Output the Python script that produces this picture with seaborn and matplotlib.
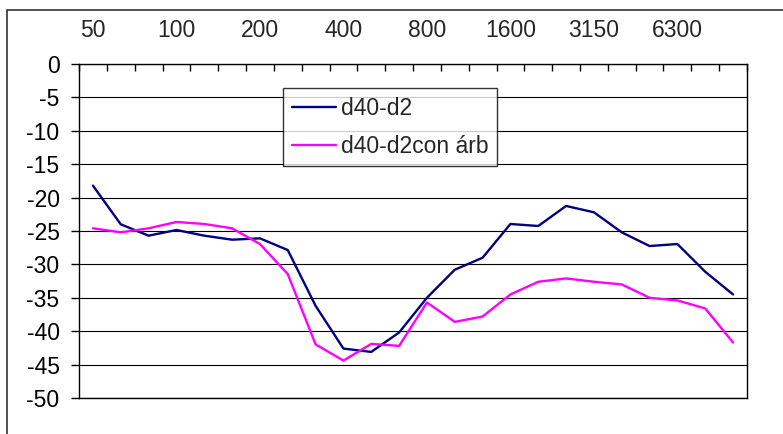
import numpy as np
import pandas as pd
import matplotlib
matplotlib.use("Agg")
import matplotlib.pyplot as plt
from matplotlib.patches import Rectangle
import seaborn as sns

# ---- data ----
freqs = ["50", "63", "80", "100", "125", "160", "200", "250", "315", "400",
         "500", "630", "800", "1000", "1250", "1600", "2000", "2500", "3150",
         "4000", "5000", "6300", "8000", "10000"]
d40_d2 = [-18.2, -24.0, -25.7, -24.85, -25.7, -26.3, -26.1, -27.85, -36.2, -42.6,
          -43.1, -40.2, -35.0, -30.8, -29.0, -23.95, -24.25, -21.25, -22.2, -25.2,
          -27.25, -26.95, -31.1, -34.5]
d40_d2_arb = [-24.6, -25.2, -24.6, -23.65, -23.95, -24.6, -26.95, -31.45, -41.97, -44.4,
              -41.9, -42.2, -35.7, -38.6, -37.8, -34.5, -32.6, -32.1, -32.6, -33.0,
              -35.0, -35.4, -36.6, -41.7]
series_names = ["d40-d2", "d40-d2con árb"]
colors = ["#000080", "#FF00FF"]
y_ticks = list(range(-50, 1, 5))

pos = np.arange(len(freqs))
df = pd.concat([
    pd.DataFrame({"pos": pos, "value": d40_d2, "series": series_names[0]}),
    pd.DataFrame({"pos": pos, "value": d40_d2_arb, "series": series_names[1]}),
], ignore_index=True)

sns.set_style("white")
plt.rcParams["font.family"] = ["Liberation Sans", "DejaVu Sans"]

FS = 16.5
W, H = 783, 434
fig = plt.figure(figsize=(W / 100, H / 100), dpi=100)
L, R, T, B = 79, 747, 64, 398
ax = fig.add_axes([L / W, 1 - B / H, (R - L) / W, (B - T) / H])

sns.lineplot(data=df, x="pos", y="value", hue="series", palette=colors,
             linewidth=1.7, ax=ax, legend=True)

ax.set_xlim(-0.5, len(freqs) - 0.5)
ax.set_ylim(-50, 0)
ax.set_xlabel("")
ax.set_ylabel("")

# y axis
ax.set_yticks(y_ticks)
ax.set_yticklabels([str(v) for v in y_ticks])
ax.tick_params(axis="y", direction="out", length=6, width=1, color="black",
               labelsize=FS, pad=8, labelcolor="black", left=True)
ax.yaxis.grid(True, color="black", linewidth=0.8)
ax.xaxis.grid(False)

# x axis on top
ax.xaxis.tick_top()
ax.set_xticks(np.arange(-0.5, len(freqs), 1.0))
ax.set_xticklabels([])
ax.tick_params(axis="x", which="major", direction="in", length=5, width=1,
               color="black", top=True, bottom=False)
lab_pos = pos[::3]
ax.set_xticks(lab_pos, minor=True)
ax.set_xticklabels([freqs[i] for i in lab_pos], minor=True)
ax.tick_params(axis="x", which="minor", length=0, labelsize=FS, pad=16,
               top=True, bottom=False, labeltop=True, labelbottom=False)

for s in ax.spines.values():
    s.set_visible(True)
    s.set_color("black")
    s.set_linewidth(1.0)

# legend
handles, labels = ax.get_legend_handles_labels()
leg = ax.legend(handles, labels, loc="upper left",
                bbox_to_anchor=((283 - L) / (R - L), (B - 88) / (B - T)),
                frameon=True, fancybox=False, shadow=False, fontsize=FS,
                handlelength=1.92, handletextpad=0.22, labelspacing=0.65,
                borderpad=0.38, borderaxespad=0)
leg.get_frame().set_edgecolor("black")
leg.get_frame().set_linewidth(1.0)

# chart-area border
fig.patches.append(Rectangle((7 / W, -0.2), 2.0, 1 - 10 / H + 0.2,
                             transform=fig.transFigure, fill=False,
                             edgecolor="#333333", linewidth=1.2))

fig.savefig("out.png", dpi=100)
